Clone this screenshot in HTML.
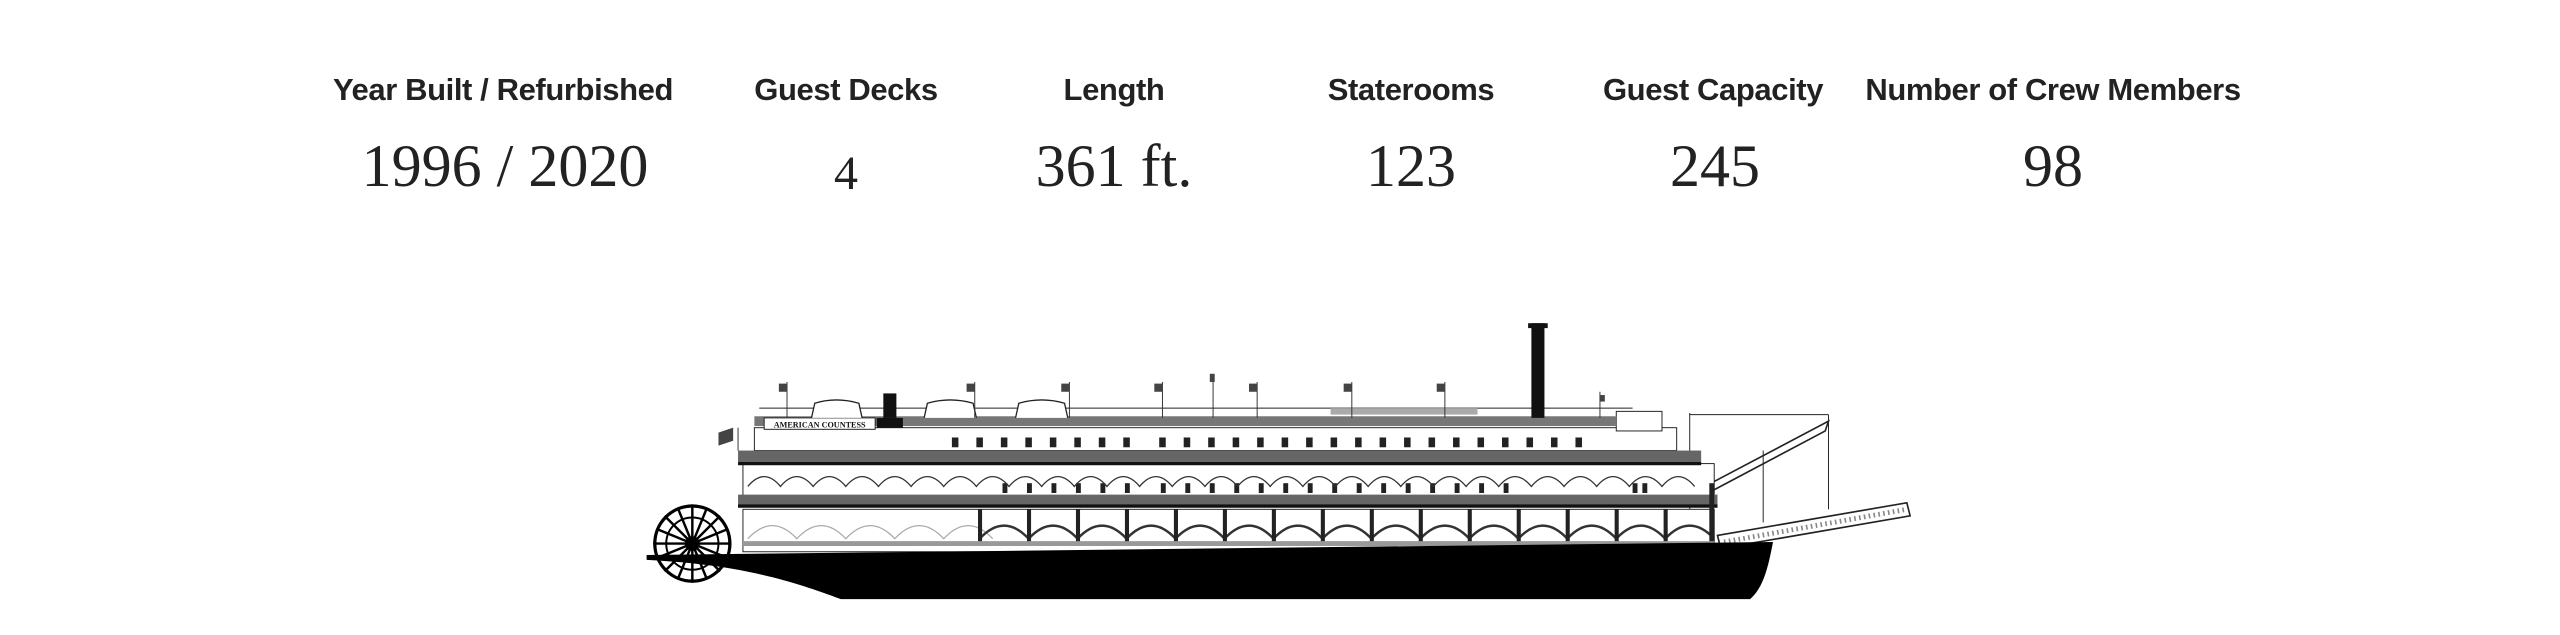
<!DOCTYPE html>
<html><head><meta charset="utf-8"><style>
html,body{margin:0;padding:0;background:#fff;}
body{width:2560px;height:635px;position:relative;overflow:hidden;}
.h{position:absolute;top:72px;transform:translateX(-50%);font-family:"Liberation Sans",sans-serif;font-weight:bold;font-size:31px;color:#222;white-space:nowrap;letter-spacing:-0.4px}
.v{position:absolute;top:132px;transform:translateX(-50%);font-family:"Liberation Serif",serif;font-size:60px;color:#222;white-space:nowrap}
svg{position:absolute;left:0;top:0}
</style></head><body>
<div class="h" style="left:503px">Year Built / Refurbished</div>
<div class="h" style="left:846px">Guest Decks</div>
<div class="h" style="left:1114px">Length</div>
<div class="h" style="left:1411px">Staterooms</div>
<div class="h" style="left:1713px">Guest Capacity</div>
<div class="h" style="left:2053px">Number of Crew Members</div>
<div class="v" style="left:505px">1996 / 2020</div>
<div class="v" style="left:846px;font-size:48px;top:146px">4</div>
<div class="v" style="left:1114px">361 ft.</div>
<div class="v" style="left:1411px">123</div>
<div class="v" style="left:1715px">245</div>
<div class="v" style="left:2053px">98</div>
<svg width="2560" height="635" viewBox="0 0 1568 389" xmlns="http://www.w3.org/2000/svg">
<g fill="none" stroke="#222" stroke-width="0.6">
<line x1="1035" y1="253" x2="1035" y2="312"/>
<line x1="1035" y1="254" x2="1120" y2="254"/>
<line x1="1120" y1="254" x2="1120" y2="312"/>
<path d="M1048,296 L1120,258 L1118,264 L1050,300 Z" stroke-width="1"/>
<line x1="1080" y1="276" x2="1080" y2="320"/>
<path d="M1052,328 L1168,308 L1170,316 L1054,336 Z" stroke-width="1"/>
<line x1="1056" y1="332" x2="1168" y2="312" stroke="#888" stroke-dasharray="1 2" stroke-width="3"/>
<rect x="455" y="312" width="595" height="26" fill="#fff"/>
<rect x="455" y="284" width="595" height="20" fill="#fff"/>
<rect x="462" y="262" width="565" height="14" fill="#fff"/>
<line x1="465" y1="250" x2="1000" y2="250"/>
<rect x="990" y="252" width="28" height="12" fill="#fff"/>
</g>
<rect x="452" y="303" width="600" height="8" fill="#666"/>
<rect x="452" y="309" width="600" height="2" fill="#111"/>
<rect x="452" y="276" width="590" height="7" fill="#666"/>
<rect x="452" y="283" width="590" height="2" fill="#111"/>
<rect x="462" y="255" width="528" height="6" fill="#777"/>
<rect x="815" y="250" width="90" height="4" fill="#aaa"/>
<rect x="468" y="256" width="68" height="7" fill="#fff" stroke="#222" stroke-width="0.6"/>
<text x="502" y="262" font-family="Liberation Serif,serif" font-size="5" font-weight="bold" text-anchor="middle" fill="#111">AMERICAN COUNTESS</text>
<rect x="537" y="256" width="16" height="6" fill="#111"/>
<g fill="#222">
<rect x="583" y="268" width="4" height="6"/><rect x="598" y="268" width="4" height="6"/><rect x="613" y="268" width="4" height="6"/><rect x="628" y="268" width="4" height="6"/><rect x="643" y="268" width="4" height="6"/><rect x="658" y="268" width="4" height="6"/><rect x="673" y="268" width="4" height="6"/><rect x="688" y="268" width="4" height="6"/><rect x="710" y="268" width="4" height="6"/><rect x="725" y="268" width="4" height="6"/><rect x="740" y="268" width="4" height="6"/><rect x="755" y="268" width="4" height="6"/><rect x="770" y="268" width="4" height="6"/><rect x="785" y="268" width="4" height="6"/><rect x="800" y="268" width="4" height="6"/><rect x="815" y="268" width="4" height="6"/><rect x="830" y="268" width="4" height="6"/><rect x="845" y="268" width="4" height="6"/><rect x="860" y="268" width="4" height="6"/><rect x="875" y="268" width="4" height="6"/><rect x="890" y="268" width="4" height="6"/><rect x="905" y="268" width="4" height="6"/><rect x="920" y="268" width="4" height="6"/><rect x="935" y="268" width="4" height="6"/><rect x="950" y="268" width="4" height="6"/><rect x="965" y="268" width="4" height="6"/>
</g>
<g fill="#222">
<rect x="614" y="296" width="3" height="6"/><rect x="629" y="296" width="3" height="6"/><rect x="644" y="296" width="3" height="6"/><rect x="659" y="296" width="3" height="6"/><rect x="674" y="296" width="3" height="6"/><rect x="689" y="296" width="3" height="6"/><rect x="711" y="296" width="3" height="6"/><rect x="726" y="296" width="3" height="6"/><rect x="741" y="296" width="3" height="6"/><rect x="756" y="296" width="3" height="6"/><rect x="771" y="296" width="3" height="6"/><rect x="786" y="296" width="3" height="6"/><rect x="801" y="296" width="3" height="6"/><rect x="816" y="296" width="3" height="6"/><rect x="831" y="296" width="3" height="6"/><rect x="846" y="296" width="3" height="6"/><rect x="861" y="296" width="3" height="6"/><rect x="876" y="296" width="3" height="6"/><rect x="891" y="296" width="3" height="6"/><rect x="906" y="296" width="3" height="6"/><rect x="921" y="296" width="3" height="6"/><rect x="1000" y="296" width="3" height="6"/><rect x="1006" y="296" width="3" height="6"/>
</g>
<g fill="none" stroke="#333" stroke-width="0.8">
<path d="M458,298 q10,-12 20,0 q10,-12 20,0 q10,-12 20,0 q10,-12 20,0 q10,-12 20,0 q10,-12 20,0 q10,-12 20,0 q10,-12 20,0 q10,-12 20,0 q10,-12 20,0 q10,-12 20,0 q10,-12 20,0 q10,-12 20,0 q10,-12 20,0 q10,-12 20,0 q10,-12 20,0 q10,-12 20,0 q10,-12 20,0 q10,-12 20,0 q10,-12 20,0 q10,-12 20,0 q10,-12 20,0 q10,-12 20,0 q10,-12 20,0 q10,-12 20,0 q10,-12 20,0 q10,-12 20,0 q10,-12 20,0 q10,-12 20,0"/>
<path d="M458,330 q15,-16 30,0 q15,-16 30,0 q15,-16 30,0 q15,-16 30,0 q15,-16 30,0" stroke="#aaa"/>
<path d="M600,330 q15,-16 30,0 q15,-16 30,0 q15,-16 30,0 q15,-16 30,0 q15,-16 30,0 q15,-16 30,0 q15,-16 30,0 q15,-16 30,0 q15,-16 30,0 q15,-16 30,0 q15,-16 30,0 q15,-16 30,0 q15,-16 30,0 q15,-16 30,0 q15,-16 30,0" stroke-width="1.5"/>
</g>
<g fill="#222">
<rect x="599" y="312" width="2.5" height="22"/><rect x="629" y="312" width="2.5" height="22"/><rect x="659" y="312" width="2.5" height="22"/><rect x="689" y="312" width="2.5" height="22"/><rect x="719" y="312" width="2.5" height="22"/><rect x="749" y="312" width="2.5" height="22"/><rect x="779" y="312" width="2.5" height="22"/><rect x="809" y="312" width="2.5" height="22"/><rect x="839" y="312" width="2.5" height="22"/><rect x="869" y="312" width="2.5" height="22"/><rect x="899" y="312" width="2.5" height="22"/><rect x="929" y="312" width="2.5" height="22"/><rect x="959" y="312" width="2.5" height="22"/><rect x="989" y="312" width="2.5" height="22"/><rect x="1019" y="312" width="2.5" height="22"/><rect x="1047" y="296" width="3" height="38"/>
</g>
<line x1="455" y1="333" x2="1050" y2="333" stroke="#999" stroke-width="3"/>
<g fill="#fff" stroke="#222" stroke-width="0.8">
<path d="M497,256 L499,247 Q512,243 526,247 L528,256"/>
<path d="M566,256 L568,247 Q582,243 596,247 L598,256"/>
<path d="M622,256 L624,247 Q638,243 652,247 L654,256"/>
</g>
<rect x="541" y="241" width="8" height="15" fill="#111"/>
<rect x="938" y="198" width="8" height="58" fill="#111"/>
<rect x="936" y="198" width="12" height="3" fill="#111"/>
<g stroke="#333" stroke-width="0.6">
<line x1="482" y1="234" x2="482" y2="256"/><line x1="597" y1="234" x2="597" y2="256"/><line x1="655" y1="234" x2="655" y2="256"/><line x1="712" y1="234" x2="712" y2="256"/><line x1="743" y1="229" x2="743" y2="256"/><line x1="770" y1="234" x2="770" y2="256"/><line x1="828" y1="234" x2="828" y2="256"/><line x1="885" y1="234" x2="885" y2="256"/><line x1="980" y1="240" x2="980" y2="256"/><line x1="452" y1="262" x2="452" y2="276"/>
</g>
<g fill="#444">
<rect x="477" y="235" width="5" height="5"/><rect x="592" y="235" width="5" height="5"/><rect x="650" y="235" width="5" height="5"/><rect x="707" y="235" width="5" height="5"/><rect x="741" y="229" width="3" height="5"/><rect x="765" y="235" width="5" height="5"/><rect x="823" y="235" width="5" height="5"/><rect x="880" y="235" width="5" height="5"/><rect x="980" y="242" width="3" height="4"/>
<path d="M440,265 L449,262 L449,270 L440,273 Z"/>
</g>
<path d="M396,340 L1086,332 C1083,348 1080,360 1072,367 L515,367 C485,356 455,346 396,343 Z" fill="#000"/>
<g transform="translate(424,333)" stroke="#000" fill="none">
<circle r="23" stroke-width="2"/>
<circle r="16" stroke-width="1.2"/>
<circle r="4" fill="#000"/>
<g stroke-width="1.5">
<line x1="-24" y1="0" x2="24" y2="0"/><line x1="0" y1="-24" x2="0" y2="24"/>
<line x1="-17" y1="-17" x2="17" y2="17"/><line x1="-17" y1="17" x2="17" y2="-17"/>
<line x1="-22" y1="-9" x2="22" y2="9"/><line x1="-22" y1="9" x2="22" y2="-9"/>
<line x1="-9" y1="-22" x2="9" y2="22"/><line x1="9" y1="-22" x2="-9" y2="22"/>
</g>
</g>
</svg>
</body></html>
